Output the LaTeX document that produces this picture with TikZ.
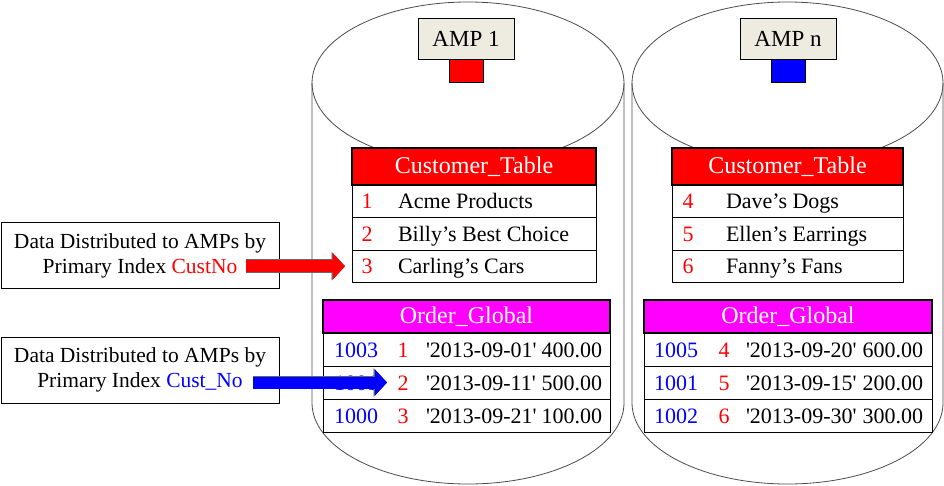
\documentclass[tikz,border=0pt]{standalone}
\usepackage{fontspec}
\setmainfont{Liberation Serif}
\usetikzlibrary{positioning,arrows.meta,calc}
\definecolor{ampbg}{HTML}{EEECE1}
\definecolor{ordmag}{RGB}{255,0,255}

\begin{document}
\begin{tikzpicture}[x=1pt, y=-1pt, every node/.style={outer sep=0pt},
    barrel/.style={draw=black!70, line width=0.8pt},
    ampbox/.style={draw, line width=0.8pt, fill=ampbg, minimum width=96pt, minimum height=41pt, font=\fontsize{23}{26}\selectfont},
    ampkey/.style={draw, line width=0.8pt, minimum width=34pt, minimum height=23pt},
    hdr/.style={draw, line width=1.2pt, minimum height=37pt, text=white, font=\fontsize{24}{28}\selectfont},
    ordhdr/.style={hdr, fill=ordmag, minimum height=33pt},
    row/.style={draw, line width=1pt, minimum height=32.5pt},
    ordrow/.style={row, minimum height=33pt},
    cell/.style={inner sep=0pt, text height=15pt, text depth=0pt, font=\fontsize{22}{26}\selectfont},
    note/.style={draw, line width=0.8pt, align=center, minimum width=278pt, minimum height=66pt, font=\fontsize{21.5}{25}\selectfont},
    bigarrow/.style={line width=12pt, -{Triangle[length=12pt,width=26pt,line width=0.8pt]},
        preaction={draw=black!60, line width=13.6pt, -{Triangle[length=13.5pt,width=28.5pt,line width=0.8pt]}}}]
    \useasboundingbox (0,0) rectangle (944,485);

    % Disks
    \draw [barrel] (468,83) ellipse [x radius=156pt, y radius=81pt];
    \draw [barrel] (312,83) -- (312,403) arc [start angle=180, end angle=360, x radius=156pt, y radius=81pt] -- (624,83);
    \draw [barrel] (787.5,83) ellipse [x radius=155.5pt, y radius=81pt];
    \draw [barrel] (632,83) -- (632,403) arc [start angle=180, end angle=360, x radius=155.5pt, y radius=81pt] -- (943,83);

    % AMPs
    \node (amp1) [ampbox] at (466,38.5) {AMP 1};
    \node (key1) [ampkey, fill=red, below=0pt of amp1] {};
    \node (ampn) [ampbox] at (788,38.5) {AMP n};
    \node (keyn) [ampkey, fill=blue, below=0pt of ampn] {};

    % Customer_Table on AMP 1
    \node (ct1) [hdr, fill=red, minimum width=244pt] at (474,166.5) {Customer\_Table};
    \node (ct1a) [row, minimum width=244pt, below=0pt of ct1] {};
    \node (ct1b) [row, minimum width=244pt, below=0pt of ct1a] {};
    \node (ct1c) [row, minimum width=244pt, below=0pt of ct1b] {};
    \node [cell, text=red] at ([xshift=15pt]ct1a.west) {1};
    \node [cell, anchor=west] at ([xshift=46pt]ct1a.west) {Acme Products};
    \node [cell, text=red] at ([xshift=15pt]ct1b.west) {2};
    \node [cell, anchor=west] at ([xshift=46pt]ct1b.west) {Billy's Best Choice};
    \node [cell, text=red] at ([xshift=15pt]ct1c.west) {3};
    \node [cell, anchor=west] at ([xshift=46pt]ct1c.west) {Carling's Cars};

    % Customer_Table on AMP n
    \node (ct2) [hdr, fill=red, minimum width=231pt] at (787.5,166.5) {Customer\_Table};
    \node (ct2a) [row, minimum width=231pt, below=0pt of ct2] {};
    \node (ct2b) [row, minimum width=231pt, below=0pt of ct2a] {};
    \node (ct2c) [row, minimum width=231pt, below=0pt of ct2b] {};
    \node [cell, text=red] at ([xshift=16pt]ct2a.west) {4};
    \node [cell, anchor=west] at ([xshift=54pt]ct2a.west) {Dave's Dogs};
    \node [cell, text=red] at ([xshift=16pt]ct2b.west) {5};
    \node [cell, anchor=west] at ([xshift=54pt]ct2b.west) {Ellen's Earrings};
    \node [cell, text=red] at ([xshift=16pt]ct2c.west) {6};
    \node [cell, anchor=west] at ([xshift=54pt]ct2c.west) {Fanny's Fans};

    % Order_Global on AMP 1
    \node (og1) [ordhdr, minimum width=287pt] at (466.5,316.5) {Order\_Global};
    \node (og1a) [ordrow, minimum width=287pt, below=0pt of og1] {};
    \node (og1b) [ordrow, minimum width=287pt, below=0pt of og1a] {};
    \node (og1c) [ordrow, minimum width=287pt, below=0pt of og1b] {};
    \node [cell, text=blue] at ([xshift=33pt]og1a.west) {1003};
    \node [cell, text=red] at ([xshift=80pt]og1a.west) {1};
    \node [cell, anchor=west] at ([xshift=103pt]og1a.west) {\textquotesingle2013-09-01\textquotesingle};
    \node [cell, anchor=east] at ([xshift=-8pt]og1a.east) {400.00};
    \node [cell, text=blue] at ([xshift=33pt]og1b.west) {1001};
    \node [cell, text=red] at ([xshift=80pt]og1b.west) {2};
    \node [cell, anchor=west] at ([xshift=103pt]og1b.west) {\textquotesingle2013-09-11\textquotesingle};
    \node [cell, anchor=east] at ([xshift=-8pt]og1b.east) {500.00};
    \node [cell, text=blue] at ([xshift=33pt]og1c.west) {1000};
    \node [cell, text=red] at ([xshift=80pt]og1c.west) {3};
    \node [cell, anchor=west] at ([xshift=103pt]og1c.west) {\textquotesingle2013-09-21\textquotesingle};
    \node [cell, anchor=east] at ([xshift=-8pt]og1c.east) {100.00};

    % Order_Global on AMP n
    \node (og2) [ordhdr, minimum width=288pt] at (788,316.5) {Order\_Global};
    \node (og2a) [ordrow, minimum width=288pt, below=0pt of og2] {};
    \node (og2b) [ordrow, minimum width=288pt, below=0pt of og2a] {};
    \node (og2c) [ordrow, minimum width=288pt, below=0pt of og2b] {};
    \node [cell, text=blue] at ([xshift=32pt]og2a.west) {1005};
    \node [cell, text=red] at ([xshift=80pt]og2a.west) {4};
    \node [cell, anchor=west] at ([xshift=102pt]og2a.west) {\textquotesingle2013-09-20\textquotesingle};
    \node [cell, anchor=east] at ([xshift=-9pt]og2a.east) {600.00};
    \node [cell, text=blue] at ([xshift=32pt]og2b.west) {1001};
    \node [cell, text=red] at ([xshift=80pt]og2b.west) {5};
    \node [cell, anchor=west] at ([xshift=102pt]og2b.west) {\textquotesingle2013-09-15\textquotesingle};
    \node [cell, anchor=east] at ([xshift=-9pt]og2b.east) {200.00};
    \node [cell, text=blue] at ([xshift=32pt]og2c.west) {1002};
    \node [cell, text=red] at ([xshift=80pt]og2c.west) {6};
    \node [cell, anchor=west] at ([xshift=102pt]og2c.west) {\textquotesingle2013-09-30\textquotesingle};
    \node [cell, anchor=east] at ([xshift=-9pt]og2c.east) {300.00};

    % Notes
    \node (note1) [note] at (140,255.5) {Data Distributed to AMPs by\\Primary Index \textcolor{red}{CustNo}};
    \node (note2) [note] at (140,370) {Data Distributed to AMPs by\\Primary Index \textcolor{blue}{Cust\_No}};

    % Arrows
    \draw [bigarrow, red] ($(note1.east |- ct1c.west)+(-33pt,0)$) -- ($(ct1c.west)+(-7pt,0)$);
    \draw [bigarrow, blue] ($(note2.east |- og1b.west)+(-26pt,0)$) -- ($(og1b.west)+(64pt,0)$);
\end{tikzpicture}
\end{document}
